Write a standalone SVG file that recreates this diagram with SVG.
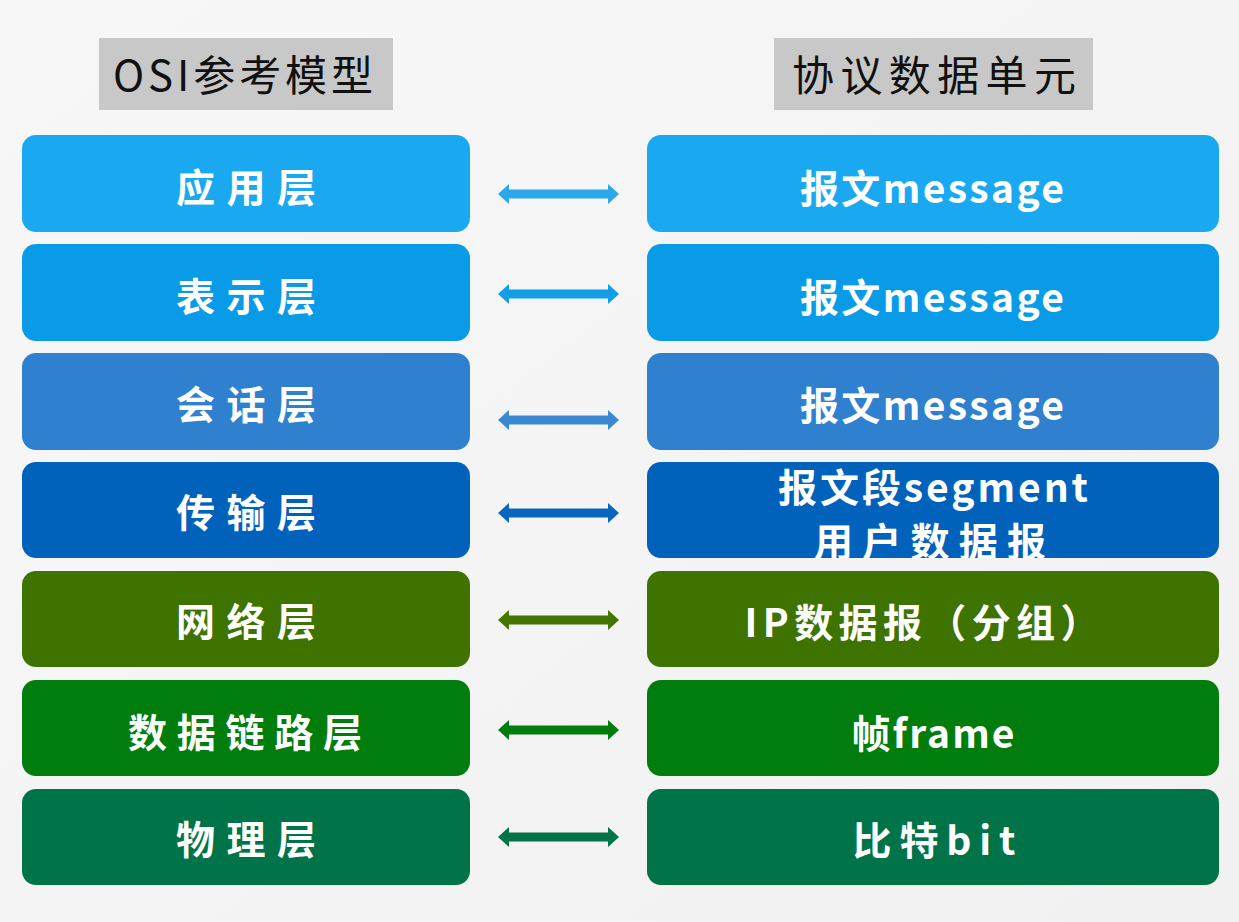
<svg xmlns="http://www.w3.org/2000/svg" width="1239" height="922" viewBox="0 0 1239 922">
<defs>
<style>
.hdr{fill:#C8C8C8}
.htxt{font-family:"Noto Sans CJK SC","Noto Sans",sans-serif;font-size:42px;fill:#111;text-anchor:middle}
.btxt{font-family:"Noto Sans CJK SC","Noto Sans",sans-serif;font-size:39px;font-weight:bold;fill:#fff;text-anchor:middle}
.r1{fill:#1AA9F0}.r2{fill:#0A9BE8}.r3{fill:#2F80CF}.r4{fill:#0062BA}.r5{fill:#3F7300}.r6{fill:#007D0C}.r7{fill:#007348}
</style>
<linearGradient id="bg" x1="0" y1="0" x2="1" y2="1">
<stop offset="0" stop-color="#F7F7F7"/><stop offset="1" stop-color="#F1F1F1"/>
</linearGradient>
<clipPath id="clip4"><rect x="647" y="462" width="572" height="96" rx="14"/></clipPath>
</defs>
<rect width="1239" height="922" fill="url(#bg)"/>
<g id="header-left"><rect class="hdr" x="99" y="38" width="294" height="72"/><text class="htxt" x="243" y="91" textLength="260" lengthAdjust="spacing">OSI参考模型</text></g>
<g id="header-right"><rect class="hdr" x="774" y="38" width="319" height="72"/><text class="htxt" x="934" y="91" textLength="284" lengthAdjust="spacing">协议数据单元</text></g>

<g id="layer-app"><rect class="r1" x="22" y="135" width="448" height="97" rx="14"/><text class="btxt" x="246" y="202" textLength="140" lengthAdjust="spacing">应用层</text></g>
<g id="layer-pres"><rect class="r2" x="22" y="244" width="448" height="97" rx="14"/><text class="btxt" x="246" y="311" textLength="140" lengthAdjust="spacing">表示层</text></g>
<g id="layer-sess"><rect class="r3" x="22" y="353" width="448" height="97" rx="14"/><text class="btxt" x="246" y="419" textLength="140" lengthAdjust="spacing">会话层</text></g>
<g id="layer-trans"><rect class="r4" x="22" y="462" width="448" height="96" rx="14"/><text class="btxt" x="246" y="527" textLength="140" lengthAdjust="spacing">传输层</text></g>
<g id="layer-net"><rect class="r5" x="22" y="571" width="448" height="96" rx="14"/><text class="btxt" x="246" y="636" textLength="140" lengthAdjust="spacing">网络层</text></g>
<g id="layer-link"><rect class="r6" x="22" y="680" width="448" height="96" rx="14"/><text class="btxt" x="245" y="747" textLength="234" lengthAdjust="spacing">数据链路层</text></g>
<g id="layer-phys"><rect class="r7" x="22" y="789" width="448" height="96" rx="14"/><text class="btxt" x="246" y="854" textLength="140" lengthAdjust="spacing">物理层</text></g>

<g id="pdu-app"><rect class="r1" x="647" y="135" width="572" height="97" rx="14"/><text class="btxt" x="932" y="203" textLength="264" lengthAdjust="spacing">报文message</text></g>
<g id="pdu-pres"><rect class="r2" x="647" y="244" width="572" height="97" rx="14"/><text class="btxt" x="932" y="312" textLength="264" lengthAdjust="spacing">报文message</text></g>
<g id="pdu-sess"><rect class="r3" x="647" y="353" width="572" height="97" rx="14"/><text class="btxt" x="932" y="420" textLength="264" lengthAdjust="spacing">报文message</text></g>
<g id="pdu-trans"><rect class="r4" x="647" y="462" width="572" height="96" rx="14"/>
<g clip-path="url(#clip4)"><text class="btxt" x="933" y="502" textLength="310" lengthAdjust="spacing">报文段segment</text><text class="btxt" x="930" y="556" textLength="232" lengthAdjust="spacing">用户数据报</text></g></g>
<g id="pdu-net"><rect class="r5" x="647" y="571" width="572" height="96" rx="14"/><text class="btxt" x="922" y="637" textLength="355" lengthAdjust="spacing">IP数据报（分组）</text></g>
<g id="pdu-link"><rect class="r6" x="647" y="680" width="572" height="96" rx="14"/><text class="btxt" x="933" y="748" textLength="163" lengthAdjust="spacing">帧frame</text></g>
<g id="pdu-phys"><rect class="r7" x="647" y="789" width="572" height="96" rx="14"/><text class="btxt" x="934" y="855" textLength="163" lengthAdjust="spacing">比特bit</text></g>

<g id="connectors">
<path fill="#2AA8E8" d="M498,194 L509,184 L509,189.5 L608,189.5 L608,184 L619,194 L608,204 L608,198.5 L509,198.5 L509,204 Z"/>
<path fill="#129FE6" d="M498,294 L509,284 L509,289.5 L608,289.5 L608,284 L619,294 L608,304 L608,298.5 L509,298.5 L509,304 Z"/>
<path fill="#3A89D0" d="M498,420 L509,410 L509,415.5 L608,415.5 L608,410 L619,420 L608,430 L608,424.5 L509,424.5 L509,430 Z"/>
<path fill="#0A66BC" d="M498,513 L509,503 L509,508.5 L608,508.5 L608,503 L619,513 L608,523 L608,517.5 L509,517.5 L509,523 Z"/>
<path fill="#437500" d="M498,620 L509,610 L509,615.5 L608,615.5 L608,610 L619,620 L608,630 L608,624.5 L509,624.5 L509,630 Z"/>
<path fill="#007D0C" d="M498,730 L509,720 L509,725.5 L608,725.5 L608,720 L619,730 L608,740 L608,734.5 L509,734.5 L509,740 Z"/>
<path fill="#007348" d="M498,837 L509,827 L509,832.5 L608,832.5 L608,827 L619,837 L608,847 L608,841.5 L509,841.5 L509,847 Z"/>
</g>
</svg>
